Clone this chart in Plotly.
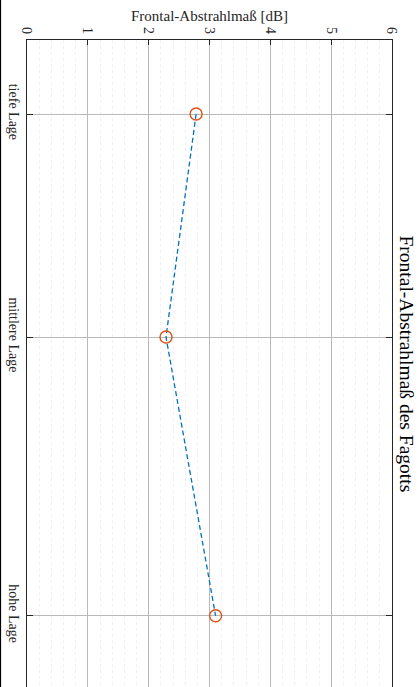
import plotly.graph_objects as go

# Register positions (x of the original measurement) and levels in dB
lage_labels = ["tiefe Lage", "mittlere Lage", "hohe Lage"]
lage_pos = [1.0, 2.0, 3.25]
abstrahlmass_db = [2.78, 2.285, 3.10]
value_ticks = [0, 1, 2, 3, 4, 5, 6]

W, H = 419, 687
ML, MR, MT, MB = 27, 27, 40, 0
PW, PH = W - ML - MR, H - MT - MB

serif = "Liberation Serif, Times New Roman, serif"
axis_color = "#262626"

fig = go.Figure()
fig.add_trace(go.Scatter(
    x=abstrahlmass_db,
    y=lage_pos,
    mode="lines+markers",
    line=dict(color="#0072BD", width=1.3, dash="5px,3px"),
    marker=dict(symbol="circle-open", size=12, color="#D95319",
                line=dict(width=1.4, color="#D95319")),
    showlegend=False,
    hoverinfo="skip",
))

fig.update_layout(
    width=W, height=H,
    margin=dict(l=ML, r=MR, t=MT, b=MB, pad=0),
    paper_bgcolor="white",
    plot_bgcolor="white",
    font=dict(family=serif, size=14, color="#262626"),
    xaxis=dict(
        range=[0, 6],
        side="top",
        tickmode="array",
        tickvals=value_ticks,
        ticktext=[str(v) for v in value_ticks],
        tickangle=90,
        ticks="inside",
        ticklen=5,
        tickcolor=axis_color,
        showline=True,
        linecolor=axis_color,
        linewidth=1,
        mirror=False,
        showgrid=True,
        gridcolor="#bababa",
        gridwidth=1,
        zeroline=False,
        minor=dict(dtick=0.2, showgrid=True, gridcolor="#f0f0f0",
                   griddash="dot", gridwidth=1),
        title=dict(text="Frontal-Abstrahlmaß [dB]",
                   font=dict(size=15, family=serif), standoff=1),
        tickfont=dict(size=14, family=serif),
    ),
    yaxis=dict(
        range=[1 + (H - 114) / 223.0, 1 - (114 - MT) / 223.0],
        tickmode="array",
        tickvals=lage_pos,
        ticktext=lage_labels,
        tickangle=90,
        ticks="inside",
        ticklen=6,
        tickcolor=axis_color,
        showline=True,
        linecolor=axis_color,
        linewidth=1,
        mirror="ticks",
        showgrid=True,
        gridcolor="#bababa",
        gridwidth=1,
        zeroline=False,
        tickfont=dict(size=14, family=serif),
    ),
)

# Title set vertically along the right side
fig.add_annotation(
    text="Frontal-Abstrahlmaß des Fagotts",
    xref="paper", yref="paper",
    x=1 + (406 - (W - MR)) / PW, y=0.5,
    xanchor="center", yanchor="middle",
    textangle=90,
    showarrow=False,
    font=dict(size=19.5, family=serif, color="#000000"),
)

# Outer frame line on the left edge
fig.add_shape(
    type="line", xref="paper", yref="paper",
    x0=(0.5 - ML) / PW, x1=(0.5 - ML) / PW,
    y0=0, y1=1 + MT / PH,
    line=dict(color="#000000", width=1.2),
)

fig.write_html("out.html")
